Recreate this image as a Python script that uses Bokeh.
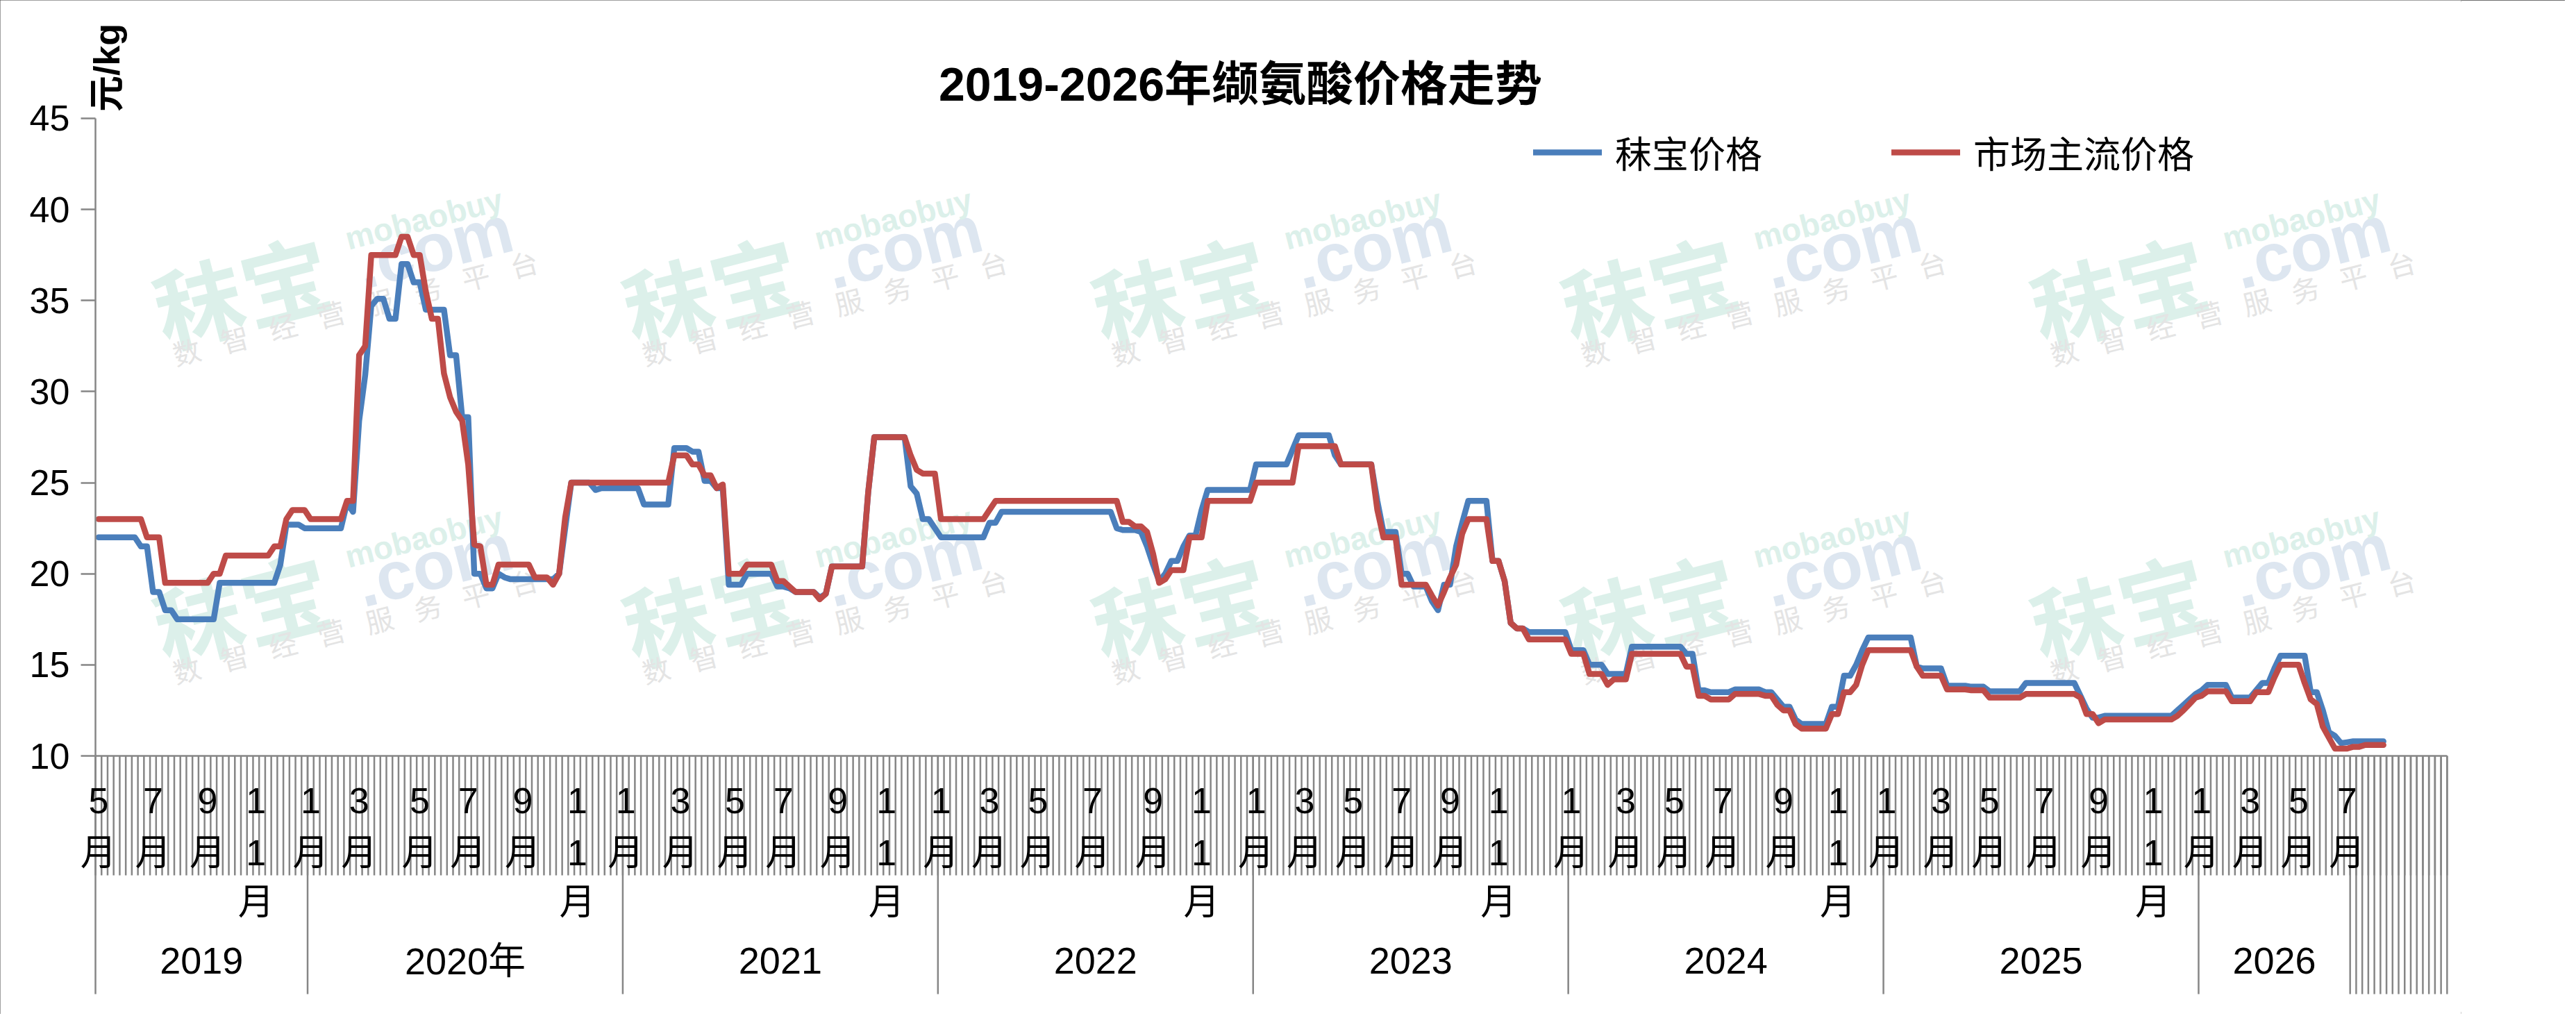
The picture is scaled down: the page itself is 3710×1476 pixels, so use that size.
import math
from bokeh.plotting import figure
from bokeh.models import Range1d, FixedTicker, Legend, LegendItem, Label
from bokeh.core.properties import value
from bokeh.embed import file_html
from bokeh.resources import INLINE

# ---------------- data ----------------
TITLE = "2019-2026年缬氨酸价格走势"
Y_UNIT = "元/kg"
SERIES_NAMES = ["秣宝价格", "市场主流价格"]

years = ["2019", "2020年", "2021", "2022", "2023", "2024", "2025", "2026"]
weeks_per_year = [35, 52, 52, 52, 52, 52, 52, 25]
blank_weeks_after = 16

month_labels = ["5月", "7月", "9月", "11月",
                "1月", "3月", "5月", "7月", "9月", "11月",
                "1月", "3月", "5月", "7月", "9月", "11月",
                "1月", "3月", "5月", "7月", "9月", "11月",
                "1月", "3月", "5月", "7月", "9月", "11月",
                "1月", "3月", "5月", "7月", "9月", "11月",
                "1月", "3月", "5月", "7月", "9月", "11月",
                "1月", "3月", "5月", "7月"]
month_label_week = [0, 9, 18, 26,
                    35, 43, 53, 61, 70, 79,
                    87, 96, 105, 113, 122, 130,
                    139, 147, 155, 164, 174, 182,
                    191, 199, 207, 215, 223, 231,
                    243, 252, 260, 268, 278, 287,
                    295, 304, 312, 321, 330, 339,
                    347, 355, 363, 371]

y_ticks = [10, 15, 20, 25, 30, 35, 40, 45]

mobao_2019 = [22, 22, 22, 22, 22, 22, 22, 21.5, 21.5, 19, 19, 18, 18, 17.5, 17.5, 17.5, 17.5, 17.5, 17.5, 17.5,
              19.5, 19.5, 19.5, 19.5, 19.5, 19.5, 19.5, 19.5, 19.5, 19.5, 20.5, 22.7, 22.7, 22.7, 22.5]
mobao_2020 = [22.5, 22.5, 22.5, 22.5, 22.5, 22.5, 23.9, 23.4, 28.4, 30.9, 34.7, 35.1, 35.1, 34.0, 34.0, 37.0, 37.0,
              36.0, 36.0, 34.5, 34.5, 34.5, 34.5, 32.0, 32.0, 28.6, 28.6, 20.0, 20.0, 19.2, 19.2, 20.0, 19.8,
              19.7, 19.7, 19.7, 19.7, 19.7, 19.7, 19.7, 19.7, 20.0, 22.5, 25.0, 25.0, 25.0, 25.0, 24.6,
              24.7, 24.7, 24.7, 24.7]
mobao_2021 = [24.7, 24.7, 24.7, 23.8, 23.8, 23.8, 23.8, 23.8, 26.9, 26.9, 26.9, 26.7, 26.7, 25.1, 25.1, 24.7, 24.7,
              19.4, 19.4, 19.4, 20.0, 20.0, 20.0, 20.0, 20.0, 19.3, 19.3, 19.2, 19.0, 19.0, 19.0, 19.0, 18.7, 18.9,
              20.4, 20.4, 20.4, 20.4, 20.4, 20.4, 24.5, 27.5, 27.5, 27.5, 27.5, 27.5, 27.5, 24.8, 24.4, 23.0, 23.0,
              22.5]
mobao_2022 = [22.0, 22.0, 22.0, 22.0, 22.0, 22.0, 22.0, 22.0, 22.8, 22.8,
              23.4, 23.4, 23.4, 23.4, 23.4, 23.4, 23.4, 23.4, 23.4, 23.4, 23.4, 23.4, 23.4, 23.4, 23.4, 23.4,
              23.4, 23.4, 23.4, 22.5, 22.4, 22.4, 22.4, 22.3, 21.5, 20.5, 19.6, 20.0, 20.7, 20.7, 21.5, 22.1,
              22.1, 23.5, 24.6, 24.6, 24.6, 24.6, 24.6, 24.6, 24.6, 24.6]
mobao_2023 = [26.0, 26.0, 26.0, 26.0, 26.0, 26.0, 26.8, 27.6, 27.6, 27.6, 27.6, 27.6, 27.6, 26.5,
              26.0, 26.0, 26.0, 26.0, 26.0, 26.0, 24.0, 22.3, 22.3, 22.3, 20.0, 20.0, 19.3, 19.3, 19.3, 18.5,
              18.0, 19.4, 19.4, 21.5, 22.8, 24.0, 24.0, 24.0, 24.0, 20.7, 20.7, 19.6, 17.3, 17.0, 17.0,
              16.8, 16.8, 16.8, 16.8, 16.8, 16.8, 16.8]
mobao_2024 = [15.8, 15.8, 15.8, 15.0, 15.0, 15.0, 14.5, 14.5, 14.5, 14.5,
              16.0, 16.0, 16.0, 16.0, 16.0, 16.0, 16.0, 16.0, 16.0, 15.6, 15.6, 13.6, 13.6,
              13.5, 13.5, 13.5, 13.5, 13.65, 13.65, 13.65, 13.65, 13.65, 13.5, 13.5, 13.1, 12.7, 12.7, 12.0,
              11.75, 11.75, 11.75, 11.75, 11.75, 12.7, 12.7, 14.4, 14.4, 15.0, 15.8, 16.5, 16.5, 16.5]
mobao_2025 = [16.5, 16.5, 16.5, 16.5, 16.5, 14.9, 14.8, 14.8, 14.8, 14.8, 13.85, 13.85, 13.85, 13.85,
              13.8, 13.8, 13.8, 13.55, 13.55, 13.55, 13.55, 13.55, 13.55,
              14.0, 14.0, 14.0, 14.0, 14.0, 14.0, 14.0, 14.0, 14.0, 13.3, 12.6, 12.1, 12.1,
              12.2, 12.2, 12.2, 12.2, 12.2, 12.2, 12.2, 12.2, 12.2, 12.2, 12.2, 12.2, 12.5, 12.8, 13.1, 13.4]
mobao_2026 = [13.6, 13.9, 13.9, 13.9, 13.9, 13.2, 13.2, 13.2, 13.2, 13.6, 14.0, 14.0, 14.8,
              15.5, 15.5, 15.5, 15.5, 15.5, 13.5, 13.5, 12.5, 11.3, 11.1, 10.7, 10.75,
              10.8, 10.8, 10.8, 10.8, 10.8, 10.8]

market_2019 = [23, 23, 23, 23, 23, 23, 23, 23, 22, 22, 22, 19.5, 19.5, 19.5, 19.5, 19.5, 19.5, 19.5, 19.5,
               20, 20, 21, 21, 21, 21, 21, 21, 21, 21, 21.5, 21.5, 23, 23.5, 23.5, 23.5]
market_2020 = [23, 23, 23, 23, 23, 23, 24, 24, 32, 32.5, 37.5, 37.5, 37.5, 37.5, 37.5, 38.5, 38.5, 37.5, 37.5,
               35.5, 34, 34, 31, 29.7, 28.9, 28.4, 26, 21.6, 21.5, 19.4, 19.4, 20.5, 20.5, 20.5, 20.5, 20.5, 20.5,
               19.8, 19.8, 19.8, 19.4, 20, 23.1, 25, 25, 25, 25, 25, 25, 25, 25, 25]
market_2021 = [25, 25, 25, 25, 25, 25, 25, 25, 26.5, 26.5, 26.5, 26, 26, 25.4, 25.4, 24.7, 24.9,
               20, 20, 20, 20.5, 20.5, 20.5, 20.5, 20.5, 19.6, 19.6, 19.3, 19, 19, 19, 19, 18.6, 18.9,
               20.4, 20.4, 20.4, 20.4, 20.4, 20.4, 24.5, 27.5, 27.5, 27.5, 27.5, 27.5, 27.5, 26.5, 25.7,
               25.5, 25.5, 25.5]
market_2022 = [23, 23, 23, 23, 23, 23, 23, 23, 23.5,
               24, 24, 24, 24, 24, 24, 24, 24, 24, 24, 24, 24, 24, 24, 24, 24, 24, 24, 24, 24, 24,
               22.85, 22.85, 22.6, 22.6, 22.3, 21.1, 19.5, 19.7, 20.2, 20.2, 20.2, 22, 22, 22,
               24, 24, 24, 24, 24, 24, 24, 24]
market_2023 = [25, 25, 25, 25, 25, 25, 25, 27, 27, 27, 27, 27, 27, 27, 26, 26, 26, 26, 26, 26,
               23.5, 22, 22, 22, 19.4, 19.4, 19.4, 19.4, 19.4, 18.8, 18.25, 19, 19.8, 20.5, 22.2,
               23, 23, 23, 23, 20.7, 20.7, 19.6, 17.3, 17, 17, 16.4, 16.4, 16.4, 16.4, 16.4, 16.4, 16.4]
market_2024 = [15.6, 15.6, 15.6, 14.5, 14.5, 14.5, 13.9, 14.2, 14.2, 14.2,
               15.6, 15.6, 15.6, 15.6, 15.6, 15.6, 15.6, 15.6, 15.6, 14.9, 14.9, 13.3, 13.3,
               13.1, 13.1, 13.1, 13.1, 13.4, 13.4, 13.4, 13.4, 13.4, 13.3, 13.3, 12.8, 12.5, 12.5, 11.75,
               11.5, 11.5, 11.5, 11.5, 11.5, 12.3, 12.3, 13.5, 13.5, 13.9, 15, 15.8, 15.8, 15.8]
market_2025 = [15.8, 15.8, 15.8, 15.8, 15.8, 14.9, 14.4, 14.4, 14.4, 14.4, 13.65, 13.65, 13.65, 13.65,
               13.6, 13.6, 13.6, 13.2, 13.2, 13.2, 13.2, 13.2, 13.2,
               13.4, 13.4, 13.4, 13.4, 13.4, 13.4, 13.4, 13.4, 13.4, 13.2, 12.3, 12.3, 11.8,
               12, 12, 12, 12, 12, 12, 12, 12, 12, 12, 12, 12, 12.2, 12.5, 12.85, 13.2]
market_2026 = [13.3, 13.55, 13.55, 13.55, 13.55, 13, 13, 13, 13, 13.5, 13.5, 13.5, 14.3,
               15, 15, 15, 15, 14, 13.1, 12.85, 11.6, 11, 10.4, 10.4, 10.4, 10.5, 10.5,
               10.6, 10.6, 10.6, 10.6]

mobao = (mobao_2019 + mobao_2020 + mobao_2021 + mobao_2022 + mobao_2023 + mobao_2024
         + mobao_2025 + mobao_2026)
market = (market_2019 + market_2020 + market_2021 + market_2022 + market_2023 + market_2024
          + market_2025 + market_2026)

# ---------------- layout helpers (pixel layout of the reference) ----------------
FONT = "Liberation Sans, Noto Sans CJK SC"
CJK = "Noto Sans CJK SC"
AXIS_GRAY = "#868686"
BLUE = "#4A7EBB"
RED = "#BE4B48"

W, H = 3694, 1460
PX_CAT = 8.729          # px per weekly category
PX_VAL = 26.229         # px per value unit
RIGHT_PANEL = 150       # empty margin at the right, holds the (relocated) axis panel
X0_PX = 137             # px of category 0 left edge (where the value axis sits)
Y10_PX = 1088           # px of value 10
LABEL_RIGHT = 100       # right edge of the value tick labels
LABEL_W = 58            # width of a two-digit tick label at 52px


def X(px):
    return (px - X0_PX) / PX_CAT


def Y(py):
    return 10 + (Y10_PX - py) / PX_VAL


p = figure(width=W, height=H,
           x_range=Range1d(X(0), X(W - RIGHT_PANEL)),
           y_range=Range1d(Y(H), Y(0)),
           x_axis_location=None, y_axis_location="right",
           toolbar_location=None, output_backend="svg",
           min_border=0, min_border_right=RIGHT_PANEL)
p.outline_line_color = None
p.background_fill_color = "white"
p.border_fill_color = "white"
for g in p.grid:
    g.visible = False
p.styles = {"outline": "3px solid #3f3f3f", "outline-offset": "-3px"}

# value axis: pinned at the left edge of the first category, ticks and labels to its left
ax = p.yaxis[0]
ax.fixed_location = 0
ax.ticker = FixedTicker(ticks=y_ticks)
ax.bounds = (10, 45)
ax.axis_line_color = AXIS_GRAY
ax.axis_line_width = 2.5
ax.major_tick_line_color = AXIS_GRAY
ax.major_tick_line_width = 2.5
ax.major_tick_out = 0
ax.major_tick_in = 21
ax.minor_tick_line_color = None
ax.major_label_standoff = (LABEL_RIGHT - LABEL_W) - X0_PX
ax.major_label_text_font = FONT
ax.major_label_text_font_size = "52px"
ax.major_label_text_color = "black"

# ---------------- watermark ----------------
wm_big_x, wm_big_y, wm_com_x, wm_com_y, wm_mb_x, wm_mb_y = [], [], [], [], [], []
wm_s_x, wm_s_y, wm_s_t = [], [], []
small_chars = "数智经营服务平台"
for by in (415, 873):
    for c in range(5):
        bx = 347 + 676 * c
        wm_big_x.append(X(bx)); wm_big_y.append(Y(by))
        wm_com_x.append(X(bx + 278)); wm_com_y.append(Y(by - 60))
        wm_mb_x.append(X(bx + 263)); wm_mb_y.append(Y(by - 100))
        for j, ch in enumerate(small_chars):
            wm_s_x.append(X(bx - 79 + 69.4 * j)); wm_s_y.append(Y(by + 90 - 18 * j)); wm_s_t.append(ch)
ang = math.radians(14.5)
p.text(x=wm_big_x, y=wm_big_y, text=["秣宝"] * len(wm_big_x), angle=ang, text_align="center",
       text_baseline="middle", text_font=value(CJK), text_font_style="bold", text_font_size="128px",
       text_color="#dcf0ea")
p.text(x=wm_com_x, y=wm_com_y, text=[".com"] * len(wm_com_x), angle=ang, text_align="center",
       text_baseline="middle", text_font=value("Liberation Sans"), text_font_style="bold",
       text_font_size="98px", text_color="#dde6f0")
p.text(x=wm_mb_x, y=wm_mb_y, text=["mobaobuy"] * len(wm_mb_x), angle=ang, text_align="center",
       text_baseline="middle", text_font=value("Liberation Sans"), text_font_style="bold",
       text_font_size="46px", text_color="#dcf0ea")
p.text(x=wm_s_x, y=wm_s_y, text=wm_s_t, angle=ang, text_align="center", text_baseline="middle",
       text_font=value(CJK), text_font_size="40px", text_color="#e4e4e4")

# ---------------- category axis (multi-level, drawn through the scales) ----------------
year_starts = [0]
for n in weeks_per_year:
    year_starts.append(year_starts[-1] + n)
n_labeled = year_starts[-1]
n_cat = n_labeled + blank_weeks_after

hatch_bottom = Y(1260)
long_bottom = Y(1431)
bx0 = list(range(n_cat + 1))
p.segment(x0=bx0, y0=[10] * len(bx0), x1=bx0, y1=[hatch_bottom] * len(bx0),
          line_color=AXIS_GRAY, line_width=2.5)
long_x = year_starts + list(range(n_labeled + 1, n_cat + 1))
p.segment(x0=long_x, y0=[10] * len(long_x), x1=long_x, y1=[long_bottom] * len(long_x),
          line_color=AXIS_GRAY, line_width=2.5)
p.segment(x0=[0], y0=[10], x1=[n_cat], y1=[10], line_color=AXIS_GRAY, line_width=2.7)

row_px = [1152, 1227, 1298]
lx, ly, lt = [], [], []
for wk, lab in zip(month_label_week, month_labels):
    rows = list(lab[:-1]) + [lab[-1]]
    for r, t in enumerate(rows):
        lx.append(wk + 0.5); ly.append(Y(row_px[r])); lt.append(t)
p.text(x=lx, y=ly, text=lt, text_align="center", text_baseline="middle",
       text_font=value(FONT), text_font_size="52px", text_color="black")

yx = [(year_starts[k] + year_starts[k + 1]) / 2 for k in range(len(years))]
p.text(x=yx, y=[Y(1383)] * len(yx), text=years, text_align="center", text_baseline="middle",
       text_font=value(FONT), text_font_size="54px", text_color="black")

# ---------------- series ----------------
xs = [i + 0.5 for i in range(len(mobao))]
r_blue = p.line(xs, mobao, line_color=BLUE, line_width=8.5, line_join="round", line_cap="round")
r_red = p.line(xs[:len(market)], market, line_color=RED, line_width=8.5, line_join="round", line_cap="round")

legend = Legend(items=[LegendItem(label=SERIES_NAMES[0], renderers=[r_blue]),
                       LegendItem(label=SERIES_NAMES[1], renderers=[r_red])],
                orientation="horizontal", location=(2208, H - 257),
                glyph_width=99, glyph_height=64, label_height=64, label_standoff=19, spacing=186,
                padding=0, margin=0, border_line_color=None, background_fill_alpha=0,
                label_text_font=CJK, label_text_font_size="53px", label_text_color="black")
p.add_layout(legend)

# ---------------- title and unit ----------------
p.text(x=[X(1786)], y=[Y(120)], text=[TITLE], text_align="center", text_baseline="middle",
       text_font=value(FONT), text_font_style="bold", text_font_size="68px", text_color="black")
p.add_layout(Label(x=X(153), y=Y(97), text=Y_UNIT, angle=math.pi / 2, text_align="center",
                   text_baseline="middle", text_font=FONT, text_font_style="bold",
                   text_font_size="52px", text_color="black"))

open("out.html", "w").write(file_html(p, INLINE))
